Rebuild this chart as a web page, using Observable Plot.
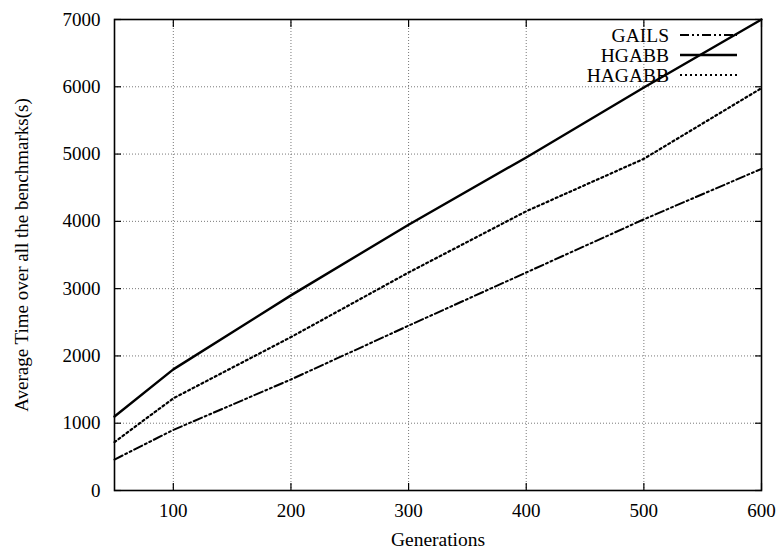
<!DOCTYPE html>
<html><head><meta charset="utf-8">
<script src="https://cdn.jsdelivr.net/npm/d3@7"></script>
<script src="https://cdn.jsdelivr.net/npm/@observablehq/plot@0.6"></script>
<style>body{margin:0;background:#fff;} #c{position:relative;width:782px;height:551px;}</style>
</head><body><div id="c"></div>
<script>
const generations = [50, 100, 200, 300, 400, 500, 600];
const gails  = [460, 900, 1650, 2450, 3240, 4030, 4780];
const hgabb  = [1100, 1800, 2900, 3950, 4950, 5990, 7000];
const hagabb = [720, 1370, 2280, 3240, 4150, 4930, 5980];
const seriesNames = ["GAILS", "HGABB", "HAGABB"];
const xTicks = [100, 200, 300, 400, 500, 600];
const yTicks = [0, 1000, 2000, 3000, 4000, 5000, 6000, 7000];

const styles = {
  GAILS: {dash: "9,3,2,3,2,3", width: 2},
  HGABB: {dash: null, width: 2.4},
  HAGABB: {dash: "2,3", width: 2.2}
};
const seriesVals = [gails, hgabb, hagabb];
const data = [];
seriesNames.forEach((s, i) => generations.forEach((g, j) => data.push({series: s, x: g, y: seriesVals[i][j]})));

const fmt = d3.format("d");
const none = () => "";
const marks = [
  Plot.gridX(xTicks, {stroke: "#555", strokeOpacity: 1, strokeWidth: 0.8, strokeDasharray: "1,2"}),
  Plot.gridY(yTicks, {stroke: "#555", strokeOpacity: 1, strokeWidth: 0.8, strokeDasharray: "1,2"}),
  Plot.axisX(xTicks, {tickSize: -7, tickPadding: 20, tickFormat: fmt, fontSize: 19, label: null, strokeWidth: 1.2}),
  Plot.axisY(yTicks, {tickSize: -7, tickPadding: 21, tickFormat: fmt, fontSize: 19, label: null, strokeWidth: 1.2}),
  Plot.axisX(xTicks, {tickSize: 0, tickFormat: none, fontSize: 19.5, label: "Generations", labelAnchor: "center", labelArrow: "none", labelOffset: 55}),
  Plot.axisY(yTicks, {tickSize: 0, tickFormat: none, fontSize: 19, label: "Average Time over all the benchmarks(s)", labelAnchor: "center", labelArrow: "none", labelOffset: 100}),
  Plot.axisX(xTicks, {anchor: "top", tickSize: -7, tickFormat: none, label: null, strokeWidth: 1.2}),
  Plot.axisY(yTicks, {anchor: "right", tickSize: -7, tickFormat: none, label: null, strokeWidth: 1.2}),
];
seriesNames.forEach(s => {
  marks.push(Plot.line(data.filter(d => d.series === s), {x: "x", y: "y", stroke: "black", strokeWidth: styles[s].width, strokeDasharray: styles[s].dash}));
});
marks.push(Plot.frame({stroke: "black", strokeWidth: 1.6}));

const chart = Plot.plot({
  width: 782, height: 551,
  marginLeft: 114, marginRight: 21, marginTop: 19, marginBottom: 61,
  style: {fontFamily: "Liberation Serif, Times New Roman, serif", fontSize: "16px", color: "black", background: "white"},
  x: {domain: [50, 600]},
  y: {domain: [0, 7000]},
  marks
});
document.getElementById("c").appendChild(chart);

// legend inside the plot area
const svg = d3.select(chart);
const lg = svg.append("g").attr("font-family", "Liberation Serif, Times New Roman, serif").attr("font-size", 19.5);
const legendY = [35, 55, 75];
seriesNames.forEach((s, i) => {
  lg.append("text").attr("x", 669).attr("y", legendY[i]).attr("dy", "0.35em").attr("text-anchor", "end").text(s);
  lg.append("line").attr("x1", 680).attr("x2", 737).attr("y1", legendY[i]).attr("y2", legendY[i])
    .attr("stroke", "black").attr("stroke-width", styles[s].width).attr("stroke-dasharray", styles[s].dash);
});
</script></body></html>
